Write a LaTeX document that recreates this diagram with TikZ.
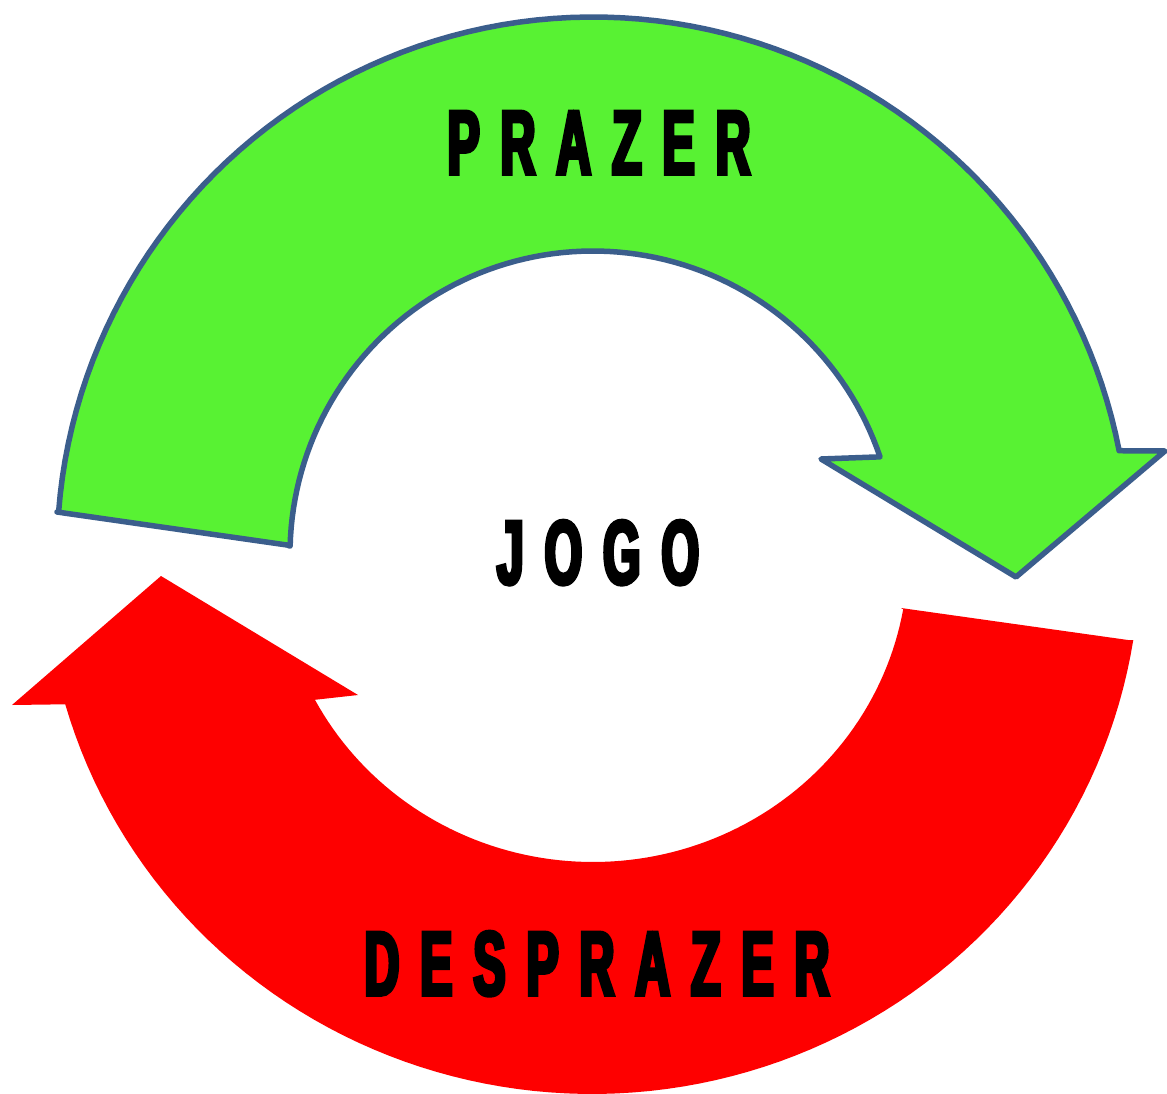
\documentclass[tikz,border=0pt]{standalone}
\usepackage{fontspec}
\newfontfamily\impfont[FakeStretch=0.53,FakeBold=4,LetterSpace=23]{Liberation Sans}
\definecolor{ggreen}{RGB}{88,242,51}
\definecolor{gborder}{RGB}{59,94,140}
\definecolor{rred}{RGB}{254,0,0}
\begin{document}
\begin{tikzpicture}[x=1pt,y=-1pt,
  greenarrow/.style={fill=ggreen,draw=gborder,line width=5.5pt,line join=round},
  redarrow/.style={fill=rred},
  word/.style={font=\impfont\bfseries\fontsize{91}{100}\selectfont,anchor=base,inner sep=0pt,text=black}]
\useasboundingbox (0,0) rectangle (1167,1094);
\fill[white] (0,0) rectangle (1167,1094);
% green arrow (top)
\draw[greenarrow] (57,512) -- plot[domain=184.4:349,samples=90] ({593+536*cos(\x)},{553+536*sin(\x)})
  -- (1165,451) -- (1016,577) -- (821,459) -- (876,457)
  -- plot[domain=341.3:181.5,samples=90] ({593+303*cos(\x)},{554+303*sin(\x)})
  -- (287,545) -- cycle;
% red arrow (bottom)
\fill[redarrow] (1128,640) -- plot[domain=9:164,samples=90] ({592+548*cos(\x)},{556+538*sin(\x)})
  -- (12,705) -- (161,576) -- (358,695) -- (313,700)
  -- plot[domain=152:10,samples=90] ({593+315*cos(\x)},{556+306*sin(\x)})
  -- (901,608) -- cycle;
\node[word] (prazer) at (599,174) {PRAZER};
\node[word] (jogo) at (598,584) {JOGO};
\node[word] (desprazer) at (597,995) {DESPRAZER};
\end{tikzpicture}
\end{document}
